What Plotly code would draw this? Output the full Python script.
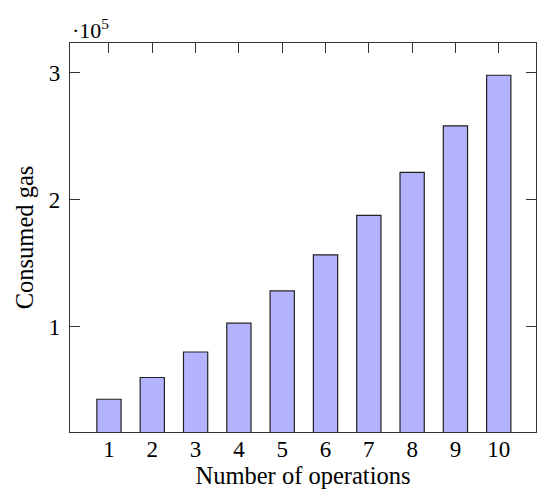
import plotly.graph_objects as go

operations = [1, 2, 3, 4, 5, 6, 7, 8, 9, 10]
consumed_gas = [42900, 60000, 80100, 102800, 128200, 156600, 187600, 221500, 258200, 298000]
y_tick_vals = [100000, 200000, 300000]
y_tick_text = ["1", "2", "3"]

FONT = "Liberation Serif, Times New Roman, serif"
AX = "#333333"

fig = go.Figure()
fig.add_trace(go.Bar(
    x=operations, y=consumed_gas, width=0.56,
    marker=dict(color="#b3b3ff", line=dict(color="#222222", width=1.2)),
))
# invisible trace to carry the top x axis
fig.add_trace(go.Scatter(x=operations, y=consumed_gas, xaxis="x2", mode="markers",
                         marker=dict(opacity=0), hoverinfo="skip", showlegend=False))

xr = [0.10, 10.86]
fig.update_layout(
    width=537, height=490,
    margin=dict(l=70, r=1, t=43, b=58, autoexpand=False),
    paper_bgcolor="white", plot_bgcolor="white",
    showlegend=False,
    font=dict(family=FONT, color="black", size=23),
    xaxis=dict(range=xr, tickvals=operations, ticktext=[str(v) for v in operations],
               ticks="", showline=True, linecolor=AX, linewidth=1.3, mirror=True,
               showgrid=False, zeroline=False, automargin=False,
               tickfont=dict(size=23), ticklabelstandoff=-4,
               title=dict(text="Number of operations", font=dict(size=24.5), standoff=5)),
    xaxis2=dict(range=xr, overlaying="x", side="top", tickvals=operations,
                showticklabels=False, ticks="inside", ticklen=10, tickwidth=1.3,
                tickcolor=AX, showgrid=False, zeroline=False, showline=False,
                automargin=False),
    yaxis=dict(range=[17100, 323400], tickvals=y_tick_vals, ticktext=y_tick_text,
               ticks="inside", ticklen=10, tickwidth=1.3, tickcolor=AX,
               showline=True, linecolor=AX, linewidth=1.3, mirror="ticks",
               showgrid=False, zeroline=False, tickfont=dict(size=23),
               ticklabelstandoff=4, automargin=False,
               title=dict(text="Consumed gas", font=dict(size=24.5), standoff=8)),
    annotations=[dict(xref="paper", yref="paper", x=0.0, y=1.0, xanchor="left", yanchor="bottom",
                      text="·10<sup>5</sup>", showarrow=False, font=dict(size=22, family=FONT),
                      yshift=-2)],
)
fig.write_html("out.html", config={"displayModeBar": False},
               post_script="document.body.style.margin='0';")
